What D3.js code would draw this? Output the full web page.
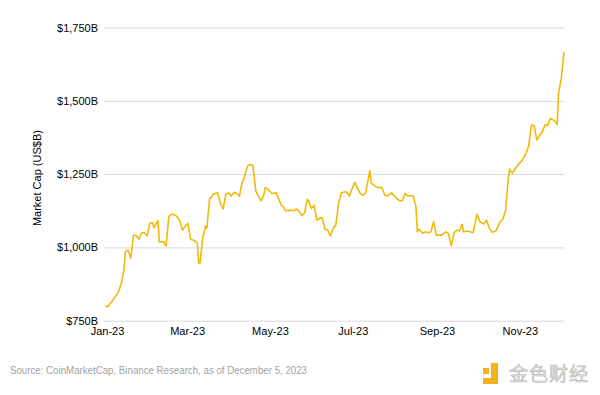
<!DOCTYPE html>
<html>
<head>
<meta charset="utf-8">
<script src="https://cdn.jsdelivr.net/npm/d3@7"></script>
<style>
  body { margin: 0; background: #fff; }
  svg { display: block; font-family: "Liberation Sans", Arial, sans-serif; }
</style>
</head>
<body>
<div id="chart"></div>
<script>
// Total crypto market cap, 2023
const dates = [
  "2023-01-01","2023-01-03","2023-01-07","2023-01-11","2023-01-13","2023-01-15","2023-01-16","2023-01-18",
  "2023-01-20","2023-01-22","2023-01-24","2023-01-26","2023-01-28","2023-01-30","2023-02-01","2023-02-03",
  "2023-02-05","2023-02-06","2023-02-09","2023-02-10","2023-02-13","2023-02-15","2023-02-17","2023-02-19",
  "2023-02-22","2023-02-25","2023-02-27","2023-03-03","2023-03-05","2023-03-08","2023-03-10","2023-03-11",
  "2023-03-12","2023-03-14","2023-03-16","2023-03-17","2023-03-19","2023-03-22","2023-03-25","2023-03-27",
  "2023-03-29","2023-03-31","2023-04-02","2023-04-04","2023-04-06","2023-04-08","2023-04-10","2023-04-12",
  "2023-04-13","2023-04-16","2023-04-18","2023-04-20","2023-04-22","2023-04-24","2023-04-26","2023-04-28",
  "2023-04-29","2023-05-01","2023-05-04","2023-05-07","2023-05-09","2023-05-11","2023-05-12","2023-05-14",
  "2023-05-17","2023-05-20","2023-05-22","2023-05-24","2023-05-26","2023-05-28","2023-05-30","2023-05-31",
  "2023-06-02","2023-06-04","2023-06-06","2023-06-08","2023-06-10","2023-06-12","2023-06-14","2023-06-16",
  "2023-06-18","2023-06-20","2023-06-22","2023-06-24","2023-06-27","2023-06-28","2023-06-30","2023-07-02",
  "2023-07-04","2023-07-06","2023-07-08","2023-07-10","2023-07-12","2023-07-15","2023-07-16","2023-07-19",
  "2023-07-21","2023-07-24","2023-07-26","2023-07-28","2023-07-31","2023-08-02","2023-08-06","2023-08-08",
  "2023-08-10","2023-08-12","2023-08-15","2023-08-16","2023-08-18","2023-08-19","2023-08-20","2023-08-22",
  "2023-08-23","2023-08-25","2023-08-27","2023-08-29","2023-08-31","2023-09-02","2023-09-06","2023-09-09",
  "2023-09-11","2023-09-13","2023-09-15","2023-09-17","2023-09-19","2023-09-21","2023-09-22","2023-09-25",
  "2023-09-29","2023-10-02","2023-10-04","2023-10-07","2023-10-09","2023-10-11","2023-10-13","2023-10-16",
  "2023-10-19","2023-10-21","2023-10-23","2023-10-25","2023-10-26","2023-10-28","2023-10-31","2023-11-04",
  "2023-11-07","2023-11-09","2023-11-11","2023-11-13","2023-11-15","2023-11-17","2023-11-19","2023-11-21",
  "2023-11-23","2023-11-25","2023-11-28","2023-11-30","2023-12-01","2023-12-03","2023-12-05"
];

const marketCap = [
  800, 798, 821, 849, 878, 923, 985, 991,
  963, 1042, 1040, 1028, 1050, 1050, 1039, 1082,
  1084, 1068, 1091, 1019, 1019, 1005, 1105, 1114,
  1110, 1093, 1059, 1082, 1028, 1023, 1014, 946,
  948, 1031, 1073, 1065, 1164, 1182, 1186, 1150,
  1131, 1182, 1186, 1175, 1188, 1184, 1175, 1224,
  1230, 1278, 1283, 1280, 1193, 1175, 1159, 1179,
  1204, 1198, 1184, 1186, 1164, 1142, 1141, 1125,
  1127, 1125, 1131, 1122, 1108, 1118, 1164, 1158,
  1133, 1144, 1093, 1099, 1101, 1062, 1059, 1039,
  1065, 1076, 1150, 1186, 1190, 1188, 1175, 1201,
  1222, 1201, 1184, 1178, 1186, 1262, 1219, 1209,
  1204, 1204, 1179, 1175, 1186, 1175, 1159, 1159,
  1184, 1176, 1176, 1175, 1139, 1053, 1062, 1053,
  1048, 1053, 1050, 1053, 1088, 1042, 1042, 1053,
  1046, 1005, 1050, 1059, 1056, 1079, 1053, 1056,
  1050, 1113, 1088, 1080, 1093, 1065, 1052, 1057,
  1088, 1096, 1127, 1236, 1266, 1253, 1275, 1296,
  1321, 1346, 1417, 1415, 1366, 1383, 1394, 1417,
  1417, 1440, 1432, 1420, 1525, 1577, 1667
];

const yTicks = [750, 1000, 1250, 1500, 1750];
const xTickDates = ["2023-01-01", "2023-03-01", "2023-05-01", "2023-07-01", "2023-09-01", "2023-11-01"];

const parse = d3.timeParse("%Y-%m-%d");
const data = dates.map((d, i) => ({ date: parse(d), value: marketCap[i] }));

const width = 600;
const height = 395;
const margin = { top: 27.5, right: 36, bottom: 74.3, left: 105 };

const svg = d3.select("#chart")
  .append("svg")
  .attr("width", width)
  .attr("height", height);

const x = d3.scaleTime()
  .domain([parse("2023-01-01"), parse("2023-12-05")])
  .range([margin.left, width - margin.right]);

const y = d3.scaleLinear()
  .domain([750, 1750])
  .range([height - margin.bottom, margin.top]);

// Gridlines + y labels
const yAxis = d3.axisLeft(y)
  .tickValues(yTicks)
  .tickSize(-(width - margin.right - margin.left + 1))
  .tickPadding(6)
  .tickFormat(d => "$" + d3.format(",")(d) + "B");

const gy = svg.append("g")
  .attr("transform", `translate(${margin.left - 1},0)`)
  .call(yAxis);
gy.select(".domain").remove();
gy.selectAll(".tick line").attr("stroke", "#d9d9d9").attr("stroke-width", 1);
gy.selectAll(".tick text")
  .attr("fill", "#000")
  .style("font-size", "11px");

// x labels
const xAxis = d3.axisBottom(x)
  .tickValues(xTickDates.map(parse))
  .tickSize(0)
  .tickPadding(7)
  .tickFormat(d3.timeFormat("%b-%y"));

const gx = svg.append("g")
  .attr("transform", `translate(2,${height - margin.bottom})`)
  .call(xAxis);
gx.select(".domain").remove();
gx.selectAll(".tick text")
  .attr("fill", "#000")
  .style("font-size", "11px");

// Axis title
svg.append("text")
  .attr("transform", `translate(41,${(margin.top + height - margin.bottom) / 2 + 4}) rotate(-90)`)
  .attr("text-anchor", "middle")
  .style("font-size", "11px")
  .attr("fill", "#000")
  .text("Market Cap (US$B)");

// Line
const line = d3.line()
  .x(d => x(d.date))
  .y(d => y(d.value));

svg.append("path")
  .datum(data)
  .attr("fill", "none")
  .attr("stroke", "#F0B90B")
  .attr("stroke-width", 1.6)
  .attr("stroke-linejoin", "round")
  .attr("d", line);

// Footer
svg.append("text")
  .attr("x", 10)
  .attr("y", 374)
  .attr("fill", "#a3a3a3")
  .style("font-size", "11.5px")
  .attr("textLength", 297)
  .attr("lengthAdjust", "spacingAndGlyphs")
  .text("Source: CoinMarketCap, Binance Research, as of December 5, 2023");

// Watermark logo
const logo = svg.append("g").attr("fill", "#F3B11E");
logo.append("rect").attr("x", 483).attr("y", 368).attr("width", 6).attr("height", 6);
logo.append("rect").attr("x", 491).attr("y", 363).attr("width", 7).attr("height", 21);
logo.append("rect").attr("x", 483).attr("y", 378).attr("width", 15).attr("height", 6);

svg.append("text")
  .attr("x", 509)
  .attr("y", 381)
  .attr("fill", "#e6e6e6")
  .attr("stroke", "#b5b5b5")
  .attr("stroke-width", 0.6)
  .style("font-family", "'Noto Sans CJK SC', sans-serif")
  .style("font-size", "19px")
  .attr("textLength", 79)
  .text("金色财经");
</script>
</body>
</html>
